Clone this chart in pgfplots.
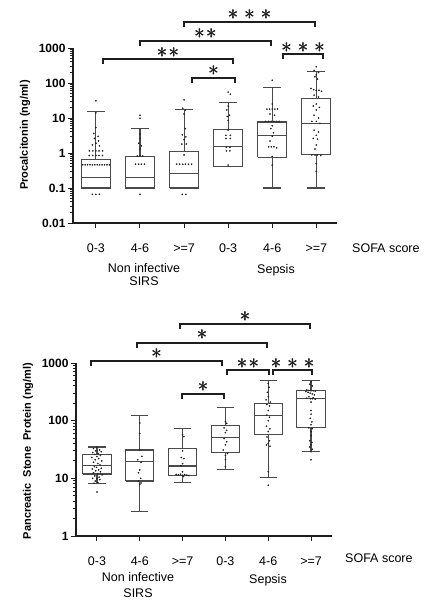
\documentclass[border=0pt]{standalone}
\usepackage{fontspec}
\setmainfont{Liberation Sans}
\usepackage{pgfplots}
\pgfplotsset{compat=1.18}
\definecolor{boxc}{HTML}{4A4A4A}
\definecolor{axc}{HTML}{1E1E1E}
\definecolor{dotc}{HTML}{202020}
\newcommand{\br}[5]{% x1 x2 y  starsy stars
  \draw[line width=1.1pt, color=axc] (#1pt,-#3pt-5pt) -- (#1pt,-#3pt) -- (#2pt,-#3pt) -- (#2pt,-#3pt-5pt);
  \node[inner sep=0pt, text=axc] at ({(#1+#2)/2*1pt-0.25pt},-#4pt) {\fontsize{20}{20}\selectfont$#5$};
  \node[inner sep=0pt, text=axc] at ({(#1+#2)/2*1pt+0.25pt},-#4pt) {\fontsize{20}{20}\selectfont$#5$};
  \node[inner sep=0pt, text=axc] at ({(#1+#2)/2*1pt},-#4pt+0.25pt) {\fontsize{20}{20}\selectfont$#5$};
}
\newcommand{\sA}{\ast}
\newcommand{\sB}{\ast\kern1.5pt\ast}
\newcommand{\sC}{\ast\kern1.5pt\ast\kern1.5pt\ast}
\begin{document}
\begin{tikzpicture}
\path[use as bounding box] (0,0) rectangle (438pt,-610pt);
% ---------------- top chart ----------------
\begin{axis}[at={(73pt,-223pt)}, anchor=south west,
  width=264pt, height=175pt, scale only axis,
  ymode=log,
  axis x line=bottom, axis y line=left,
  axis line style={-, line width=1.4pt, color=axc},
  tick align=outside, tick style={color=axc, line width=1pt},
  major tick length=5pt, minor tick length=3pt,
  xmin=0.48, xmax=6.47,
  xtick={1,2,3,4,5,6},
  xticklabels={0-3,4-6,>=7,0-3,4-6,>=7},
  xticklabel style={font=\fontsize{12.5}{12.5}\selectfont, yshift=-12pt},
  yticklabel style={font=\fontsize{12}{12}\selectfont\bfseries, xshift=1pt},
  clip=false, unbounded coords=jump,
  ymin=0.01, ymax=1000,
  ytick={0.01,0.1,1,10,100,1000},
  minor ytick={0.02,0.03,0.04,0.05,0.06,0.07,0.08,0.09,0.2,0.3,0.4,0.5,0.6,0.7,0.8,0.9,2,3,4,5,6,7,8,9,20,30,40,50,60,70,80,90,200,300,400,500,600,700,800,900},
  yticklabels={0.01,0.1,1,10,100,1000}]
% boxes, medians, whiskers, caps
\addplot[draw=boxc, line width=1.1pt, mark=none, line join=miter] coordinates {
(0.67,0.1) (1.33,0.1) (1.33,0.65) (0.67,0.65) (0.67,0.1) (1,nan)
(0.67,0.2) (1.33,0.2) (1,nan) (1,0.65) (1,15) (1,nan) (0.8,15) (1.2,15) (1,nan)
(1.67,0.1) (2.33,0.1) (2.33,0.78) (1.67,0.78) (1.67,0.1) (2,nan)
(1.67,0.2) (2.33,0.2) (2,nan) (2,0.78) (2,4.9) (2,nan) (1.8,4.9) (2.2,4.9) (2,nan)
(2.67,0.1) (3.33,0.1) (3.33,1.08) (2.67,1.08) (2.67,0.1) (3,nan)
(2.67,0.26) (3.33,0.26) (3,nan) (3,1.08) (3,17) (3,nan) (2.8,17) (3.2,17) (3,nan)
(3.67,0.41) (4.33,0.41) (4.33,4.7) (3.67,4.7) (3.67,0.41) (4,nan)
(3.67,1.55) (4.33,1.55) (4,nan) (4,4.7) (4,28) (4,nan) (3.8,28) (4.2,28) (4,nan)
(4.67,0.75) (5.33,0.75) (5.33,7.7) (4.67,7.7) (4.67,0.75) (5,nan)
(4.67,3.2) (5.33,3.2) (5,nan) (5,7.7) (5,75) (5,nan) (4.8,75) (5.2,75) (5,nan)
(5,0.75) (5,0.1) (5,nan) (4.8,0.1) (5.2,0.1) (5,nan)
(5.67,0.9) (6.33,0.9) (6.33,36) (5.67,36) (5.67,0.9) (6,nan)
(5.67,6.8) (6.33,6.8) (6,nan) (6,36) (6,210) (6,nan) (5.8,210) (6.2,210) (6,nan)
(6,0.9) (6,0.1) (6,nan) (5.8,0.1) (6.2,0.1)
};
% dots
\addplot[only marks, mark=*, mark size=0.6pt, draw=dotc, fill=dotc] coordinates {
(1,31) (1,14) (1,5.3) (0.95,3.6) (1.05,3.0) (0.97,2.6) (1.06,2.2) (1.0,1.9) (0.92,1.7) (1.08,1.6)
(0.85,1.15) (0.93,1.15) (1.0,1.15) (1.07,1.15) (1.15,1.15)
(0.85,0.85) (0.93,0.85) (1.0,0.85) (1.07,0.85) (1.15,0.85)
(0.70,0.46) (0.755,0.46) (0.81,0.46) (0.865,0.46) (0.92,0.46) (0.975,0.46) (1.03,0.46) (1.085,0.46) (1.14,0.46) (1.195,0.46) (1.25,0.46) (1.305,0.46)
(0.92,0.066) (1.0,0.066) (1.08,0.066)
(2,12) (2,9.8) (2,3.5) (2,2.6) (1.97,1.9) (2.03,1.6) (2,1.3) (1.94,0.82) (2,0.82) (2.06,0.82)
(1.9,0.48) (1.97,0.48) (2.03,0.48) (2.1,0.48) (2,0.066)
(3,33) (2.97,19) (3.03,17) (3,13) (3.03,5) (2.96,3.3) (3.04,2.9) (3,2.4) (2.95,1.8) (3.05,1.8) (3,0.88)
(2.83,0.48) (2.9,0.48) (2.97,0.48) (3.03,0.48) (3.1,0.48) (3.17,0.48) (2.96,0.066) (3.04,0.066)
(4,55) (4.05,48) (4,22) (3.97,17) (4.03,12) (3.98,11) (4,8.5) (4,4.5) (3.95,3.2) (4.05,3.2)
(3.95,2.6) (4.05,2.6) (3.96,1.45) (4.04,1.45) (3.96,1.15) (4.04,1.15) (4,0.45)
(5,120) (5,25) (4.88,18) (4.94,18) (5,18) (5.06,18) (5.12,18) (4.95,13) (5.05,12)
(4.85,8) (4.92,8) (4.98,8) (5.04,8) (5.1,8) (5.16,8) (5,6) (4.97,5) (5.03,3.8) (5,3) (4.95,2.2)
(4.92,1.5) (4.98,1.5) (5.04,1.5) (5.1,1.4) (5,0.8) (5,0.45)
(6,290) (5.95,230) (6.05,200) (6,170) (5.97,150) (6.03,130) (5.88,70) (5.94,65) (6,62) (6.06,62) (6.12,58)
(5.95,45) (6.05,40) (6,25) (5.93,22) (6.07,20) (6,17) (5.95,12) (6.05,10) (5.9,8) (6,8) (6.08,7)
(5.95,4.5) (6.05,4) (6,3.2) (5.93,2.6) (6.03,2.5) (6,1.7) (5.97,1.3) (5.9,0.88) (5.97,0.88) (6.03,0.88) (6.1,0.85) (6,0.5) (6,0.3)
};
\end{axis}
\node[rotate=90, font=\fontsize{11}{11}\selectfont\bfseries] at (25pt,-135pt) {Procalcitonin (ng/ml)};
\node[font=\fontsize{12.5}{12.5}\selectfont] at (144pt,-268pt) {Non infective};
\node[font=\fontsize{12.5}{12.5}\selectfont] at (144pt,-281pt) {SIRS};
\node[font=\fontsize{12.5}{12.5}\selectfont] at (276pt,-270pt) {Sepsis};
\node[font=\fontsize{12.5}{12.5}\selectfont, anchor=west, inner sep=0pt] at (352pt,-248pt) {SOFA score};
\br{184}{315}{22}{15}{\sC}
\br{140}{271}{41}{34}{\sB}
\br{103}{233}{59}{53}{\sB}
\br{192}{235}{78}{71}{\sA}
\br{283}{323}{54}{48}{\sC}
% ---------------- bottom chart ----------------
\begin{axis}[at={(76pt,-536pt)}, anchor=south west,
  width=256pt, height=173pt, scale only axis,
  ymode=log,
  axis x line=bottom, axis y line=left,
  axis line style={-, line width=1.4pt, color=axc},
  tick align=outside, tick style={color=axc, line width=1pt},
  major tick length=5pt, minor tick length=3pt,
  xmin=0.51, xmax=6.49,
  xtick={1,2,3,4,5,6},
  xticklabels={0-3,4-6,>=7,0-3,4-6,>=7},
  xticklabel style={font=\fontsize{12.5}{12.5}\selectfont, yshift=-12pt},
  yticklabel style={font=\fontsize{12}{12}\selectfont\bfseries, xshift=1pt},
  clip=false, unbounded coords=jump,
  ymin=1, ymax=1000,
  ytick={1,10,100,1000},
  minor ytick={2,3,4,5,6,7,8,9,20,30,40,50,60,70,80,90,200,300,400,500,600,700,800,900},
  yticklabels={1,10,100,1000}]
\addplot[draw=boxc, line width=1.1pt, mark=none, line join=miter] coordinates {
(0.67,11.9) (1.33,11.9) (1.33,26) (0.67,26) (0.67,11.9) (1,nan)
(0.67,16.6) (1.33,16.6) (1,nan) (1,26) (1,35) (1,nan) (0.8,35) (1.2,35) (1,nan)
(1,11.9) (1,8.2) (1,nan) (0.8,8.2) (1.2,8.2) (1,nan)
(1.67,9.0) (2.33,9.0) (2.33,31) (1.67,31) (1.67,9.0) (2,nan)
(1.67,19.5) (2.33,19.5) (2,nan) (2,31) (2,123) (2,nan) (1.8,123) (2.2,123) (2,nan)
(2,9.0) (2,2.7) (2,nan) (1.8,2.7) (2.2,2.7) (2,nan)
(2.67,11.1) (3.33,11.1) (3.33,33) (2.67,33) (2.67,11.1) (3,nan)
(2.67,16.4) (3.33,16.4) (3,nan) (3,33) (3,74) (3,nan) (2.8,74) (3.2,74) (3,nan)
(3,11.1) (3,8.4) (3,nan) (2.8,8.4) (3.2,8.4) (3,nan)
(3.67,28.3) (4.33,28.3) (4.33,82) (3.67,82) (3.67,28.3) (4,nan)
(3.67,51) (4.33,51) (4,nan) (4,82) (4,172) (4,nan) (3.8,172) (4.2,172) (4,nan)
(4,28.3) (4,14) (4,nan) (3.8,14) (4.2,14) (4,nan)
(4.67,57) (5.33,57) (5.33,201) (4.67,201) (4.67,57) (5,nan)
(4.67,125) (5.33,125) (5,nan) (5,201) (5,493) (5,nan) (4.8,493) (5.2,493) (5,nan)
(5,57) (5,10.4) (5,nan) (4.8,10.4) (5.2,10.4) (5,nan)
(5.67,76) (6.33,76) (6.33,335) (5.67,335) (5.67,76) (6,nan)
(5.67,243) (6.33,243) (6,nan) (6,335) (6,500) (6,nan) (5.8,500) (6.2,500) (6,nan)
(6,76) (6,29) (6,nan) (5.8,29) (6.2,29)
};
\addplot[only marks, mark=*, mark size=0.6pt, draw=dotc, fill=dotc] coordinates {
(1.0,35) (0.92,33) (1.06,31) (0.97,30) (1.1,29) (0.9,28) (1.03,27) (0.95,26) (1.08,25) (1.0,24)
(0.88,23) (1.04,22) (0.96,21) (1.11,20) (0.92,19) (1.02,18) (1.07,17) (0.94,16) (0.99,15.5) (1.1,15)
(0.89,14.5) (1.04,14) (0.97,13.5) (1.08,13) (0.92,12.5) (1.01,12) (1.12,11.5) (0.95,11) (1.05,10.5) (0.9,10)
(1.0,9.8) (1.07,9.5) (0.96,9) (1.02,8.5) (0.93,8.2) (1.0,5.8)
(2,91) (2,60) (2,31) (2.05,24) (1.95,21) (2.03,19) (2,14) (1.97,12.5) (2.02,10) (1.97,9) (2.03,8.3) (2,7.8)
(3,57) (3.03,53) (3,30) (2.97,23) (3.03,22) (3,18) (2.96,16.5) (3,13) (2.85,11.7) (2.9,11.5) (2.95,11.8)
(3,11.3) (3.05,11.6) (3.1,11.4) (3.15,11.2) (3.02,10.8)
(4,96) (4.03,90) (3.97,75) (4.03,68) (4,62) (3.97,49) (4.03,43) (4,38) (3.95,31) (4.05,27) (4,25) (4,21) (4,16)
(5,440) (5.02,380) (4.98,310) (5,260) (4.95,230) (5.05,210) (4.97,190) (5.03,180) (5,150) (4.97,125) (5.03,115)
(5,100) (4.96,80) (5.04,72) (5,65) (4.97,52) (5.03,45) (5,40) (4.96,38) (5.04,36) (5,13) (5,7.6)
(6,470) (5.97,430) (6.03,400) (5.9,340) (5.95,335) (6,330) (6.05,330) (6.1,325) (5.88,320) (5.93,310) (5.98,300)
(6.03,290) (6.08,280) (5.95,260) (6.05,250) (5.9,245) (5.98,240) (6.03,240) (6.1,235) (6,210) (6,150) (6,130)
(5.98,110) (6.02,95) (6,85) (5.95,75) (6.03,73) (6,65) (6,55) (5.97,45) (6.02,42) (6,38) (5.97,35) (6.03,32) (6,29) (6,21)
};
\end{axis}
\node[rotate=90, font=\fontsize{11}{11}\selectfont\bfseries] at (28pt,-451pt) {Pancreatic\ \ Stone\ \ Protein (ng/ml)};
\node[font=\fontsize{12.5}{12.5}\selectfont] at (138pt,-577pt) {Non infective};
\node[font=\fontsize{12.5}{12.5}\selectfont] at (138pt,-593pt) {SIRS};
\node[font=\fontsize{12.5}{12.5}\selectfont] at (268pt,-580pt) {Sepsis};
\node[font=\fontsize{12.5}{12.5}\selectfont, anchor=west, inner sep=0pt] at (345pt,-558pt) {SOFA score};
\br{180}{310}{324}{317}{\sA}
\br{137}{267}{343}{335}{\sA}
\br{91}{222}{361}{354}{\sA}
\br{227}{269}{370}{364}{\sB}
\br{273}{312}{370}{364}{\sC}
\br{182}{224}{394}{387}{\sA}
\end{tikzpicture}
\end{document}
